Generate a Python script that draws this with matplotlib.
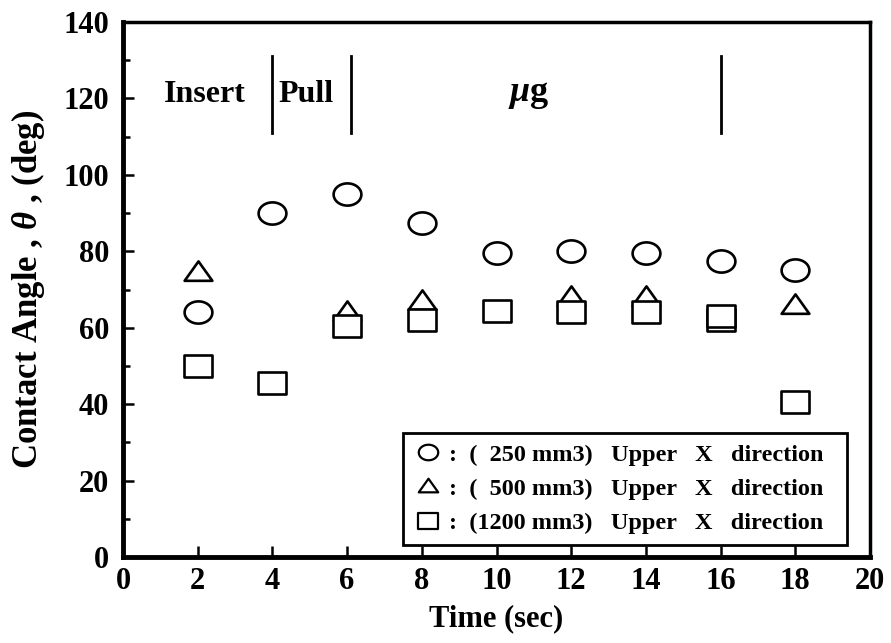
import numpy as np
import matplotlib
matplotlib.use("Agg")
import matplotlib.pyplot as plt
from matplotlib.path import Path

time = [2, 4, 6, 8, 10, 12, 14, 16, 18]
angle_250 = [64, 90, 95, 87.5, 79.5, 80, 79.5, 77.5, 75]
time_500 = [2, 6, 8, 12, 14, 18]
angle_500 = [74.5, 64, 67, 68, 68, 66]
time_1200 = [2, 4, 6, 8, 10, 12, 14, 16, 16, 18]
angle_1200 = [50, 45.5, 60.5, 62, 64.5, 64, 64, 62, 63, 40.5]

labels = [":  (  250 mm3)   Upper   X   direction  ",
          ":  (  500 mm3)   Upper   X   direction  ",
          ":  (1200 mm3)   Upper   X   direction  "]

plt.rcParams['font.family'] = ['Liberation Serif', 'DejaVu Serif']
plt.rcParams['font.weight'] = 'bold'
plt.rcParams['axes.labelweight'] = 'bold'
plt.rcParams['mathtext.fontset'] = 'custom'
plt.rcParams['mathtext.it'] = 'Liberation Serif:italic'
plt.rcParams['mathtext.rm'] = 'Liberation Serif:bold'

sq = 0.80
t = np.linspace(0, 2*np.pi, 60)
ell = Path(np.column_stack([np.cos(t), sq*np.sin(t)]), closed=True)
box = Path(np.array([[-1, -sq], [1, -sq], [1, sq], [-1, sq], [-1, -sq]]), closed=True)
tri = Path(np.array([[-1, -sq*0.75], [1, -sq*0.75], [0, sq*1.0], [-1, -sq*0.75]]), closed=True)

fig = plt.figure(figsize=(8.91, 6.43), dpi=100)
ax = fig.add_axes([123/891, 1-557/643, (870-123)/891, (557-22)/643])

mkw = dict(ls='none', mfc='white', mec='black', mew=1.9)
h1, = ax.plot(time, angle_250, marker=ell, ms=20, **mkw)
h2, = ax.plot(time_500, angle_500, marker=tri, ms=20, **mkw)
h3, = ax.plot(time_1200, angle_1200, marker=box, ms=20, **mkw)

ax.set_xlim(0, 20)
ax.set_ylim(0, 140)
ax.set_xticks(np.arange(0, 21, 2))
ax.set_yticks(np.arange(0, 141, 20))
ax.set_yticks(np.arange(10, 140, 20), minor=True)
ax.tick_params(which='both', direction='in', width=1.8, labelsize=22)
ax.tick_params(axis='y', pad=10)
ax.tick_params(axis='x', pad=7)
ax.tick_params(which='major', length=8)
ax.tick_params(which='minor', length=5)
for s in ax.spines.values():
    s.set_linewidth(2.5)
ax.spines['left'].set_linewidth(3.5)
ax.spines['bottom'].set_linewidth(3.5)

ax.set_xlabel("Time (sec)", fontsize=22, labelpad=6)
ax.set_ylabel(r"Contact Angle , $\theta$ , (deg)", fontsize=25, labelpad=12)

# phase annotations
for xv in [4, 6.1, 16]:
    ax.plot([xv, xv], [111, 131], color='black', lw=2)
ax.text(2.2, 121, "Insert", fontsize=23, ha='center', va='center')
ax.text(4.15, 121, "Pull", fontsize=23, ha='left', va='center')
ax.text(10.85, 121, r"$\mu$" + "g", fontsize=26, ha='center', va='center')

leg = ax.legend([h1, h2, h3], labels, loc='lower right', fontsize=17.5,
                bbox_to_anchor=(0.969, 0.0224),
                frameon=True, fancybox=False, edgecolor='black', framealpha=1,
                borderaxespad=0.0, handletextpad=0.3, handlelength=1.15,
                labelspacing=0.5, markerscale=0.7, borderpad=0.45)
leg.get_frame().set_linewidth(2)
for lh in leg.legend_handles:
    lh.set_markeredgewidth(1.6)

fig.savefig("out.png", dpi=100)
